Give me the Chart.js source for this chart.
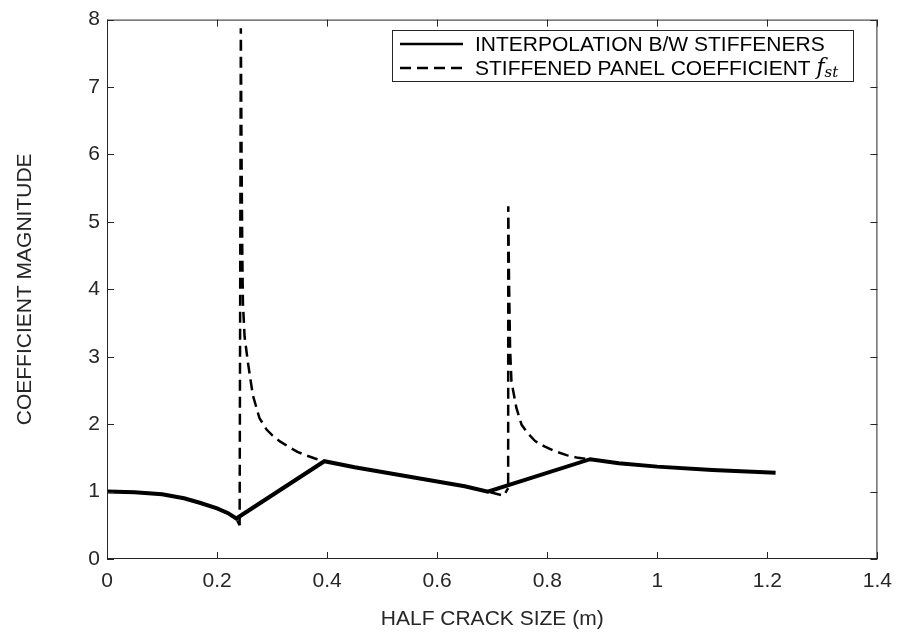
<!DOCTYPE html>
<html>
<head>
<meta charset="utf-8">
<script src="https://cdn.jsdelivr.net/npm/chart.js@4.4.0/dist/chart.umd.min.js"></script>
<style>
  body { margin: 0; background: #fff; }
</style>
</head>
<body>
<canvas id="coefChart" width="902" height="643"></canvas>
<script>
// interpolation between stiffeners (solid)
const solidX = [0, 0.05, 0.1, 0.14, 0.17, 0.2, 0.22, 0.235, 0.395, 0.45, 0.5, 0.55, 0.6, 0.65, 0.692, 0.878, 0.93, 1.0, 1.1, 1.215];
const solidY = [1.0, 0.99, 0.96, 0.90, 0.83, 0.75, 0.68, 0.60, 1.45, 1.36, 1.29, 1.22, 1.15, 1.08, 1.00, 1.48, 1.42, 1.37, 1.32, 1.28];

// stiffened panel coefficient f_st (dashed)
const dashX = [0, 0.05, 0.1, 0.14, 0.17, 0.2, 0.22, 0.235, 0.241, 0.2432, 0.2445, 0.2458, 0.247, 0.25, 0.256, 0.265, 0.277, 0.29, 0.301, 0.315, 0.331, 0.346, 0.361, 0.378, 0.395,
  0.45, 0.5, 0.55, 0.6, 0.65, 0.692, 0.721, 0.729, 0.7292, 0.7300, 0.7306, 0.7325, 0.735, 0.744, 0.7535, 0.765, 0.778, 0.795, 0.814, 0.835, 0.856, 0.878];
const dashY = [1.0, 0.99, 0.96, 0.90, 0.83, 0.75, 0.68, 0.60, 0.50, 7.87, 6.0, 4.6, 3.8, 3.3, 2.92, 2.43, 2.09, 1.92, 1.83, 1.74, 1.66, 1.59, 1.54, 1.49, 1.45,
  1.36, 1.29, 1.22, 1.15, 1.08, 1.00, 0.94, 1.05, 5.23, 4.6, 4.1, 3.12, 2.63, 2.24, 1.99, 1.86, 1.75, 1.67, 1.60, 1.54, 1.50, 1.48];

const seriesLabels = ["INTERPOLATION B/W STIFFENERS", "STIFFENED PANEL COEFFICIENT "];

const xMin = 0, xMax = 1.4, xStep = 0.2;
const yMin = 0, yMax = 8, yStep = 1;

const axisColor = "#262626";
const fontFamily = "'Liberation Sans', Arial, Helvetica, sans-serif";
const fontSize = 21;
const dashPattern = [11, 6];

function toPoints(xs, ys) {
  return xs.map((x, i) => ({ x: x, y: ys[i] }));
}

// points just before each jump up to a spike
const jumpStarts = dashY.map((y, i) => (i < dashY.length - 1 && dashY[i + 1] - y > 2 ? i : -1)).filter(i => i >= 0);

// restart the dash phase at each spike so the up and down strokes share dashes
function spikeDashOffset(c) {
  const run = jumpStarts.filter(j => j <= c.p0DataIndex).length;
  if (run === 0) return 0;
  const s = jumpStarts[run - 1];
  const pts = c.chart.getDatasetMeta(c.datasetIndex).data;
  const a = pts[s], b = pts[s + 1];
  const len = Math.hypot(b.x - a.x, b.y - a.y);
  const period = dashPattern[0] + dashPattern[1];
  return ((dashPattern[0] / 2 - len) % period + period) % period;
}

// box around the axes with inward ticks on all four sides
const axesBox = {
  id: "axesBox",
  afterDatasetsDraw(chart) {
    const ctx = chart.ctx;
    const a = chart.chartArea;
    const tick = 7;
    ctx.save();
    ctx.strokeStyle = axisColor;
    ctx.lineWidth = 1;
    ctx.strokeRect(a.left + 0.5, a.top + 0.5, a.right - a.left - 1, a.bottom - a.top - 1);
    ctx.beginPath();
    chart.scales.x.ticks.forEach(t => {
      const px = Math.round(chart.scales.x.getPixelForValue(t.value)) + 0.5;
      ctx.moveTo(px, a.bottom);
      ctx.lineTo(px, a.bottom - tick);
      ctx.moveTo(px, a.top);
      ctx.lineTo(px, a.top + tick);
    });
    chart.scales.y.ticks.forEach(t => {
      const py = Math.round(chart.scales.y.getPixelForValue(t.value)) + 0.5;
      ctx.moveTo(a.left, py);
      ctx.lineTo(a.left + tick, py);
      ctx.moveTo(a.right, py);
      ctx.lineTo(a.right - tick, py);
    });
    ctx.stroke();
    ctx.restore();
  }
};

// legend box in the upper right, with the f_st subscript
const legendBox = {
  id: "legendBox",
  afterDraw(chart) {
    const ctx = chart.ctx;
    const bx = 392, by = 30, bw = 461, bh = 51;
    const rows = [44, 68];
    ctx.save();
    ctx.fillStyle = "#fff";
    ctx.fillRect(bx, by, bw, bh);
    ctx.strokeStyle = axisColor;
    ctx.lineWidth = 1;
    ctx.strokeRect(bx + 0.5, by + 0.5, bw, bh);

    chart.data.datasets.forEach((ds, i) => {
      const y = rows[i];
      ctx.strokeStyle = "#000";
      ctx.lineWidth = 2.5;
      ctx.setLineDash(ds.borderDash || []);
      ctx.lineDashOffset = 0;
      ctx.beginPath();
      ctx.moveTo(400, y);
      ctx.lineTo(463, y);
      ctx.stroke();
      ctx.setLineDash([]);

      ctx.fillStyle = "#000";
      ctx.font = fontSize + "px " + fontFamily;
      ctx.textBaseline = "middle";
      ctx.textAlign = "left";
      ctx.fillText(ds.label, 475, y + 1);
      if (i === 1) {
        let tx = 475 + ctx.measureText(ds.label).width;
        ctx.font = "italic 22px 'DejaVu Serif', 'Liberation Serif', serif";
        ctx.fillText("f", tx, y);
        tx += ctx.measureText("f").width;
        ctx.font = "italic 15px 'DejaVu Serif', 'Liberation Serif', serif";
        ctx.fillText("st", tx, y + 5);
      }
    });
    ctx.restore();
  }
};

const ctx = document.getElementById("coefChart").getContext("2d");
const chart = new Chart(ctx, {
  type: "scatter",
  data: {
    datasets: [{
      label: seriesLabels[0],
      data: toPoints(solidX, solidY),
      showLine: true,
      borderColor: "#000",
      backgroundColor: "#000",
      borderWidth: 4,
      pointRadius: 0,
      tension: 0
    }, {
      label: seriesLabels[1],
      data: toPoints(dashX, dashY),
      showLine: true,
      borderColor: "#000",
      backgroundColor: "#000",
      borderWidth: 2.5,
      borderDash: dashPattern,
      pointRadius: 0,
      tension: 0,
      segment: {
        borderDash: () => dashPattern,
        borderDashOffset: spikeDashOffset
      }
    }]
  },
  options: {
    responsive: false,
    animation: false,
    layout: { padding: { top: 14, right: 23, left: 0, bottom: 0 } },
    plugins: {
      legend: { display: false },
      tooltip: { enabled: false }
    },
    scales: {
      x: {
        type: "linear",
        min: xMin,
        max: xMax,
        grid: { display: false, drawTicks: false },
        border: { display: false },
        ticks: {
          stepSize: xStep,
          padding: 10,
          color: axisColor,
          font: { family: fontFamily, size: fontSize },
          callback: v => String(Number(v.toFixed(1)))
        },
        title: {
          display: true,
          text: "HALF CRACK SIZE (m)",
          color: axisColor,
          font: { family: fontFamily, size: fontSize },
          padding: { top: 11, bottom: 11 }
        },
        afterFit: s => { s.height = 84; }
      },
      y: {
        type: "linear",
        min: yMin,
        max: yMax,
        grid: { display: false, drawTicks: false },
        border: { display: false },
        ticks: {
          stepSize: yStep,
          padding: 7,
          color: axisColor,
          font: { family: fontFamily, size: fontSize }
        },
        title: {
          display: true,
          text: "COEFFICIENT MAGNITUDE",
          color: axisColor,
          font: { family: fontFamily, size: fontSize },
          padding: { top: 13, bottom: 13 }
        },
        afterFit: s => { s.width = 107; }
      }
    }
  },
  plugins: [axesBox, legendBox]
});
</script>
</body>
</html>
